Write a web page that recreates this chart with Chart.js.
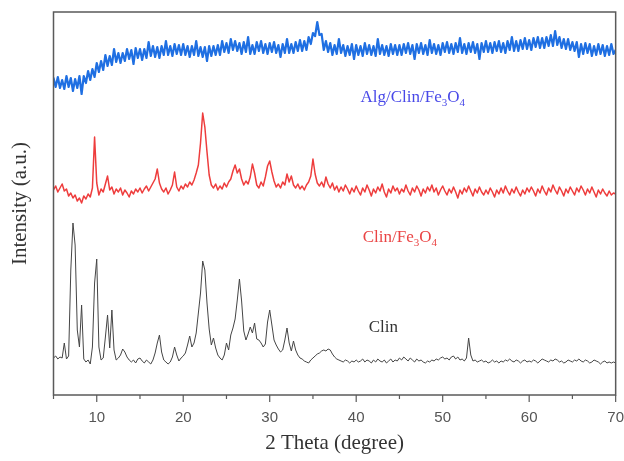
<!DOCTYPE html>
<html>
<head>
<meta charset="utf-8">
<title>XRD patterns</title>
<script src="https://cdn.jsdelivr.net/npm/chart.js@4.4.1/dist/chart.umd.min.js"></script>
<style>
  html, body { margin: 0; padding: 0; background: #fff; }
  canvas { display: block; }
</style>
</head>
<body>
<canvas id="xrdChart" width="624" height="461"></canvas>
<script>
// Scan grid: 2 theta from 5 to 70 degrees in 0.25 degree steps
const thetaStart = 5;
const thetaStep = 0.25;

// Intensities (a.u.), curves already stacked as in the figure
const algClinFe3O4 = [
    317, 308, 318, 307, 315, 306, 319, 308, 317, 304, 316, 307, 319, 301, 319, 312, 324, 315, 326, 318,
    332, 323, 334, 325, 340, 329, 339, 330, 346, 333, 342, 332, 342, 334, 346, 336, 345, 331, 347, 337,
    346, 335, 346, 337, 353, 339, 349, 338, 348, 337, 349, 340, 354, 340, 349, 339, 351, 341, 350, 340,
    351, 340, 349, 338, 349, 340, 354, 339, 348, 338, 348, 334, 349, 339, 349, 340, 350, 340, 354, 343,
    352, 342, 356, 345, 354, 344, 352, 341, 353, 343, 358, 341, 350, 341, 353, 344, 354, 342, 351, 341,
    352, 343, 353, 342, 350, 338, 351, 342, 356, 342, 351, 342, 353, 344, 355, 344, 354, 345, 358, 351,
    362, 359, 373, 360, 361, 345, 354, 343, 352, 340, 350, 341, 356, 342, 350, 339, 349, 340, 351, 336,
    350, 340, 349, 339, 352, 341, 350, 340, 349, 339, 356, 341, 350, 340, 349, 339, 351, 341, 350, 340,
    350, 340, 351, 342, 352, 341, 350, 336, 351, 342, 352, 341, 350, 340, 355, 342, 351, 341, 350, 340,
    352, 343, 353, 342, 351, 341, 352, 343, 357, 342, 351, 341, 352, 343, 353, 342, 351, 336, 352, 343,
    354, 343, 352, 342, 353, 344, 354, 343, 352, 342, 354, 345, 358, 344, 354, 344, 355, 346, 357, 346,
    355, 345, 357, 348, 358, 347, 357, 347, 358, 349, 360, 349, 364, 350, 358, 347, 356, 346, 356, 345,
    353, 344, 353, 338, 351, 341, 352, 342, 351, 339, 349, 340, 351, 341, 350, 339, 349, 340, 351, 341,
    345
];

const clinFe3O4 = [
    205, 209, 203, 207, 211, 204, 206, 199, 202, 197, 200, 194, 197, 192, 199, 196, 201, 198, 207, 258,
    212, 200, 206, 203, 211, 219, 205, 208, 201, 206, 203, 207, 200, 205, 202, 198, 204, 201, 206, 203,
    207, 202, 206, 209, 204, 208, 212, 216, 226, 212, 206, 203, 207, 201, 205, 210, 223, 208, 204, 209,
    206, 211, 208, 213, 210, 215, 222, 230, 252, 282, 268, 243, 220, 210, 207, 211, 205, 209, 206, 212,
    208, 213, 216, 224, 230, 222, 226, 216, 210, 214, 211, 218, 231, 222, 210, 207, 213, 209, 218, 229,
    234, 223, 214, 208, 211, 207, 213, 210, 221, 213, 219, 210, 207, 211, 206, 209, 205, 210, 213, 219,
    236, 221, 212, 209, 213, 208, 218, 211, 207, 212, 205, 209, 203, 208, 204, 210, 206, 201, 207, 203,
    209, 204, 200, 207, 203, 210, 205, 199, 206, 202, 208, 204, 211, 203, 198, 206, 202, 209, 204, 207,
    201, 206, 203, 210, 204, 200, 207, 203, 209, 205, 199, 206, 202, 208, 204, 210, 203, 207, 200, 205,
    209, 204, 200, 206, 202, 208, 203, 197, 205, 201, 207, 203, 209, 204, 199, 206, 202, 208, 203, 200,
    205, 201, 207, 203, 198, 205, 201, 207, 202, 209, 204, 200, 206, 202, 208, 203, 199, 205, 201, 207,
    203, 208, 204, 199, 206, 202, 209, 204, 200, 207, 203, 210, 205, 201, 208, 204, 199, 206, 202, 208,
    204, 200, 207, 203, 209, 205, 200, 206, 202, 208, 203, 198, 205, 201, 206, 202, 199, 204, 200, 202,
    201
];

const clin = [
    37, 39, 36, 38, 37, 52, 36, 39, 125, 172, 150, 65, 48, 90, 36, 33, 35, 31, 48, 112,
    136, 48, 35, 37, 58, 80, 47, 85, 45, 35, 37, 40, 46, 43, 38, 35, 33, 35, 32, 36,
    37, 34, 32, 35, 33, 31, 35, 42, 52, 60, 43, 35, 33, 31, 33, 38, 48, 40, 34, 37,
    39, 42, 50, 59, 48, 52, 62, 82, 102, 134, 125, 92, 66, 50, 57, 47, 40, 37, 35, 40,
    52, 45, 60, 67, 76, 95, 116, 94, 64, 55, 61, 68, 62, 72, 56, 55, 52, 48, 51, 73,
    85, 70, 55, 50, 46, 43, 45, 55, 67, 52, 44, 54, 45, 40, 37, 36, 34, 33, 32, 35,
    37, 39, 41, 42, 44, 45, 44, 46, 45, 41, 38, 36, 35, 34, 33, 35, 34, 32, 34, 33,
    35, 33, 34, 36, 33, 35, 34, 32, 35, 33, 36, 34, 33, 35, 32, 34, 36, 33, 35, 34,
    37, 35, 38, 36, 34, 37, 35, 33, 36, 34, 35, 33, 32, 34, 33, 35, 34, 36, 35, 37,
    38, 36, 37, 35, 38, 39, 36, 38, 35, 36, 34, 37, 57, 40, 34, 35, 33, 34, 35, 33,
    34, 32, 33, 35, 33, 34, 32, 34, 33, 35, 34, 36, 34, 33, 35, 34, 32, 34, 35, 33,
    34, 33, 35, 34, 32, 34, 36, 35, 34, 33, 35, 34, 36, 35, 33, 34, 32, 33, 35, 34,
    33, 35, 34, 36, 34, 33, 35, 34, 32, 33, 35, 34, 33, 31, 33, 34, 32, 33, 32, 33,
    32
];

const seriesLabels = ['Alg/Clin/Fe3O4', 'Clin/Fe3O4', 'Clin'];
const xTicks = [10, 20, 30, 40, 50, 60, 70];

const toPoints = values => values.map((v, i) => ({ x: thetaStart + i * thetaStep, y: v }));

// Box round the plot area plus major/minor ticks below the x axis
const frameAndTicks = {
    id: 'frameAndTicks',
    afterDraw(chart) {
        const { ctx, chartArea: a, scales: { x } } = chart;
        ctx.save();
        ctx.strokeStyle = '#5a5a5a';
        ctx.lineWidth = 1.5;
        ctx.strokeRect(a.left, a.top, a.right - a.left, a.bottom - a.top);
        ctx.lineWidth = 1.2;
        for (let v = x.min; v <= x.max; v += 5) {
            const px = x.getPixelForValue(v);
            const len = xTicks.includes(v) ? 7 : 4;
            ctx.beginPath();
            ctx.moveTo(px, a.bottom);
            ctx.lineTo(px, a.bottom + len);
            ctx.stroke();
        }
        ctx.restore();
    }
};

// Curve names, digits drawn as subscripts (Fe3O4)
const curveLabels = {
    id: 'curveLabels',
    afterDatasetsDraw(chart, args, opts) {
        const { ctx, scales: { x, y } } = chart;
        ctx.save();
        ctx.textBaseline = 'alphabetic';
        opts.items.forEach((item, i) => {
            let px = x.getPixelForValue(item.at[0]);
            const py = y.getPixelForValue(item.at[1]);
            ctx.fillStyle = item.color;
            seriesLabels[i].match(/\d+|\D+/g).forEach(part => {
                const sub = /\d/.test(part);
                ctx.font = sub ? '11px "Liberation Serif"' : '17px "Liberation Serif"';
                ctx.fillText(part, px, py + (sub ? 4 : 0));
                px += ctx.measureText(part).width;
            });
        });
        ctx.restore();
    }
};

const ctx = document.getElementById('xrdChart').getContext('2d');
new Chart(ctx, {
    type: 'line',
    data: {
        datasets: [
            { label: seriesLabels[0], data: toPoints(algClinFe3O4), borderColor: '#1f6fe2', borderWidth: 2.2 },
            { label: seriesLabels[1], data: toPoints(clinFe3O4), borderColor: '#ee3d3d', borderWidth: 1.5 },
            { label: seriesLabels[2], data: toPoints(clin), borderColor: '#454545', borderWidth: 1 }
        ]
    },
    options: {
        responsive: false,
        animation: false,
        devicePixelRatio: 1,
        layout: { padding: { left: 8, right: 1, top: 12, bottom: 5.4 } },
        elements: {
            point: { radius: 0 },
            line: { tension: 0, borderJoinStyle: 'round', borderCapStyle: 'round' }
        },
        scales: {
            x: {
                type: 'linear',
                min: 5,
                max: 70,
                grid: { display: false, drawTicks: true, tickLength: 14 },
                border: { display: false },
                ticks: {
                    stepSize: 10,
                    includeBounds: false,
                    padding: 0,
                    color: '#555',
                    font: { family: 'Liberation Sans', size: 15 }
                },
                title: {
                    display: true,
                    text: '2 Theta (degree)',
                    color: '#333',
                    font: { family: 'Liberation Serif', size: 21 },
                    padding: { top: 3.4, bottom: 0 }
                }
            },
            y: {
                min: 0,
                max: 383,
                grid: { display: false, drawTicks: false },
                border: { display: false },
                ticks: { display: false },
                title: {
                    display: true,
                    text: 'Intensity (a.u.)',
                    color: '#333',
                    font: { family: 'Liberation Serif', size: 21 },
                    padding: { top: 0, bottom: 20.3 }
                }
            }
        },
        plugins: {
            legend: { display: false },
            tooltip: { enabled: false },
            curveLabels: {
                items: [
                    { at: [40.5, 293], color: '#4848e8' },
                    { at: [40.75, 153], color: '#ea4444' },
                    { at: [41.45, 63], color: '#333333' }
                ]
            }
        }
    },
    plugins: [frameAndTicks, curveLabels]
});
</script>
</body>
</html>
